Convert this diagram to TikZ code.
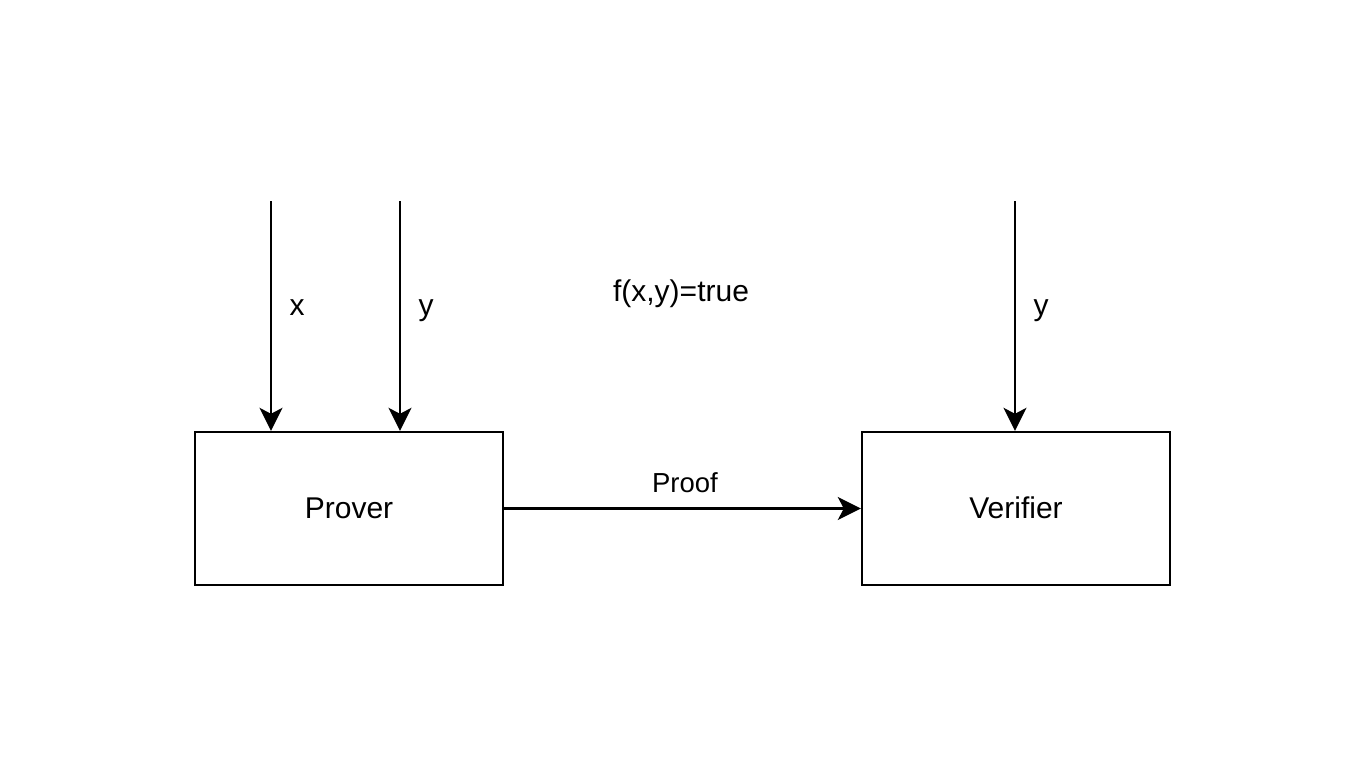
\documentclass[tikz,border=0pt]{standalone}
\usepackage{fontspec}
\setmainfont{Liberation Sans}
\usetikzlibrary{arrows.meta}
\begin{document}
\begin{tikzpicture}[x=0.5pt,y=-0.5pt,
  blk/.style={draw,line width=1.2pt,minimum width=154pt,minimum height=76.5pt,inner sep=0pt,text height=10pt,text depth=0.5pt,font=\fontsize{15}{18}\selectfont},
  lbl/.style={inner sep=0pt,anchor=base,font=\fontsize{15}{18}\selectfont},
  elbl/.style={inner sep=0pt,anchor=base,font=\fontsize{13.75}{16}\selectfont},
  arr/.style={line width=1.2pt,-{Stealth[length=11.5pt,width=11.5pt,inset=3pt]}}]
\useasboundingbox (0,0) rectangle (1366,768);
\node[blk] (prover) at (349,508.5) {Prover};
\node[blk] (verifier) at (1016,508.5) {Verifier};
\coordinate (sx) at (271,201);
\coordinate (sy) at (400,201);
\coordinate (sv) at (1015,201);
\draw[arr] (sx) -- (sx |- prover.north);
\draw[arr] (sy) -- (sy |- prover.north);
\draw[arr] (sv) -- (sv |- verifier.north);
\draw[arr] (prover.east) -- (verifier.west);
\node[lbl] (lx) at (297,315) {x};
\node[lbl] (ly) at (426,315) {y};
\node[lbl] (lv) at (1041,315) {y};
\node[lbl] (f) at (681,301) {f(x,y)=true};
\node[elbl] (proof) at (685,492) {Proof};
\end{tikzpicture}
\end{document}
